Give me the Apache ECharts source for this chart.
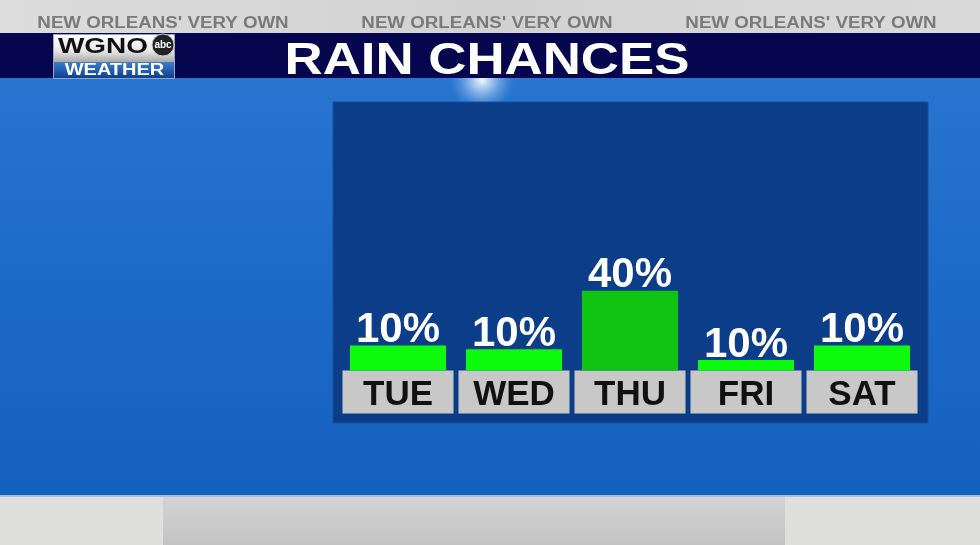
<!DOCTYPE html>
<html><head><meta charset="utf-8">
<script src="https://cdn.jsdelivr.net/npm/echarts@6/dist/echarts.min.js"></script>
<style>html,body{margin:0;padding:0;background:#1a68c4}#c{width:980px;height:545px}</style>
</head><body><div id="c"></div>
<script>
// ---- data ----
const days = ['TUE', 'WED', 'THU', 'FRI', 'SAT'];
const chances = [10, 10, 40, 10, 10];          // label values (%)
const barLevels = [12.5, 10.7, 40, 5.2, 12.5];  // bar heights as drawn in the graphic (% scale)
const titleText = 'RAIN CHANCES';
const taglineText = "NEW ORLEANS' VERY OWN";
const logoTop = 'WGNO';
const logoBottom = 'WEATHER';

// ---- styles ----
const FONT = '"Liberation Sans", Arial, sans-serif';
const maxChance = Math.max(...chances);

const chart = echarts.init(document.getElementById('c'), null, {renderer: 'canvas'});

const bg = [
  // top gray band
  {type: 'rect', shape: {x: 0, y: 0, width: 980, height: 34}, z: -20,
   style: {fill: new echarts.graphic.LinearGradient(0, 0, 1, 0, [
     {offset: 0, color: '#dcdcdc'}, {offset: 0.5, color: '#d2d2d2'}, {offset: 1, color: '#dadada'}])}},
  // blue sky
  {type: 'rect', shape: {x: 0, y: 78, width: 980, height: 418}, z: -20,
   style: {fill: new echarts.graphic.LinearGradient(0, 0, 0, 1, [
     {offset: 0, color: '#2875d0'}, {offset: 0.5, color: '#1c6ac8'}, {offset: 1, color: '#1460be'}])}},
  // glow under title
  {type: 'ellipse', shape: {cx: 482, cy: 80, rx: 150, ry: 32}, z: -19,
   style: {fill: new echarts.graphic.RadialGradient(0.5, 0.5, 0.5, [
     {offset: 0, color: 'rgba(255,255,255,0.95)'}, {offset: 0.3, color: 'rgba(215,230,250,0.7)'},
     {offset: 1, color: 'rgba(120,170,230,0)'}])}},
  // navy title band
  {type: 'rect', shape: {x: 0, y: 33, width: 980, height: 45}, z: -18, style: {fill: '#06064f'}},
  // bottom gray band
  {type: 'rect', shape: {x: 0, y: 496, width: 980, height: 49}, z: -20, style: {fill: '#dfdfdd'}},
  {type: 'rect', shape: {x: 163, y: 496, width: 622, height: 49}, z: -19,
   style: {fill: new echarts.graphic.LinearGradient(0, 0, 0, 1, [
     {offset: 0, color: '#d4d4d4'}, {offset: 1, color: '#c3c3c3'}])}},
  {type: 'rect', shape: {x: 0, y: 495, width: 980, height: 2}, z: -18, style: {fill: '#9fc0e4'}},
  // dark chart panel
  {type: 'rect', shape: {x: 333, y: 102, width: 595, height: 321}, z: -10,
   style: {fill: '#0b3d89', stroke: '#1a4f9a', lineWidth: 1}},
  // taglines
  ...[163, 487, 811].map(cx => ({type: 'text', x: cx, y: 24, scaleX: 1.17, z: -5,
    style: {text: taglineText, font: 'bold 16px ' + FONT, fill: '#7a7a7a',
            textAlign: 'center', textVerticalAlign: 'middle'}})),
  // title
  {type: 'text', x: 487, y: 61.5, scaleX: 1.2, z: -5,
   style: {text: titleText, font: 'bold 44px ' + FONT, fill: '#ffffff',
           textAlign: 'center', textVerticalAlign: 'middle'}},
  // logo
  {type: 'rect', shape: {x: 53.5, y: 34.5, width: 121, height: 44}, z: -6,
   style: {fill: '#d8d8d8', stroke: '#9aa4b8', lineWidth: 1}},
  {type: 'rect', shape: {x: 54, y: 35, width: 120, height: 27}, z: -5,
   style: {fill: new echarts.graphic.LinearGradient(0, 0, 0, 1, [
     {offset: 0, color: '#ffffff'}, {offset: 0.6, color: '#e6e6e6'}, {offset: 1, color: '#a9a9a9'}])}},
  {type: 'rect', shape: {x: 54, y: 62, width: 120, height: 16}, z: -5,
   style: {fill: new echarts.graphic.LinearGradient(0, 0, 0, 1, [
     {offset: 0, color: '#3b7ed0'}, {offset: 1, color: '#0e3f8c'}])}},
  {type: 'text', x: 103, y: 47, scaleX: 1.27, z: -4,
   style: {text: logoTop, font: 'bold 22px ' + FONT, fill: '#111111',
           textAlign: 'center', textVerticalAlign: 'middle'}},
  {type: 'circle', shape: {cx: 163, cy: 45, r: 11}, z: -4,
   style: {fill: '#222222', stroke: '#cccccc', lineWidth: 1}},
  {type: 'text', x: 163, y: 45.5, z: -3,
   style: {text: 'abc', font: 'bold 10px ' + FONT, fill: '#ffffff',
           textAlign: 'center', textVerticalAlign: 'middle'}},
  {type: 'text', x: 114.5, y: 70.5, scaleX: 1.25, z: -4,
   style: {text: logoBottom, font: 'bold 16px ' + FONT, fill: '#ffffff',
           textAlign: 'center', textVerticalAlign: 'middle'}}
];

chart.setOption({
  animation: false,
  backgroundColor: 'transparent',
  graphic: {elements: bg},
  grid: {left: 340, width: 580, top: 101, bottom: 174.5, containLabel: false},
  xAxis: {
    type: 'category', data: days,
    axisLine: {show: false}, axisTick: {show: false},
    axisLabel: {
      interval: 0, margin: 3.5,
      formatter: v => '{d|' + v + '}',
      rich: {d: {width: 111, height: 36, lineHeight: 36, padding: [7, 0, 0, 0],
                 align: 'center', verticalAlign: 'middle',
                 backgroundColor: '#c8c8c8', color: '#111111',
                 fontFamily: FONT, fontWeight: 'bold', fontSize: 35}}
    }
  },
  yAxis: {type: 'value', min: 0, max: 135, show: false, splitLine: {show: false}},
  series: [{
    type: 'bar', z: 10, barWidth: 96,
    data: barLevels.map((v, i) => ({
      value: v,
      itemStyle: {color: chances[i] === maxChance ? '#10c414' : '#0dfb0d'}
    })),
    label: {
      show: true, position: 'top', distance: 0,
      formatter: p => chances[p.dataIndex] + '%',
      color: '#ffffff', fontFamily: FONT, fontWeight: 'bold', fontSize: 42, lineHeight: 30
    }
  }]
});
</script>
</body></html>
